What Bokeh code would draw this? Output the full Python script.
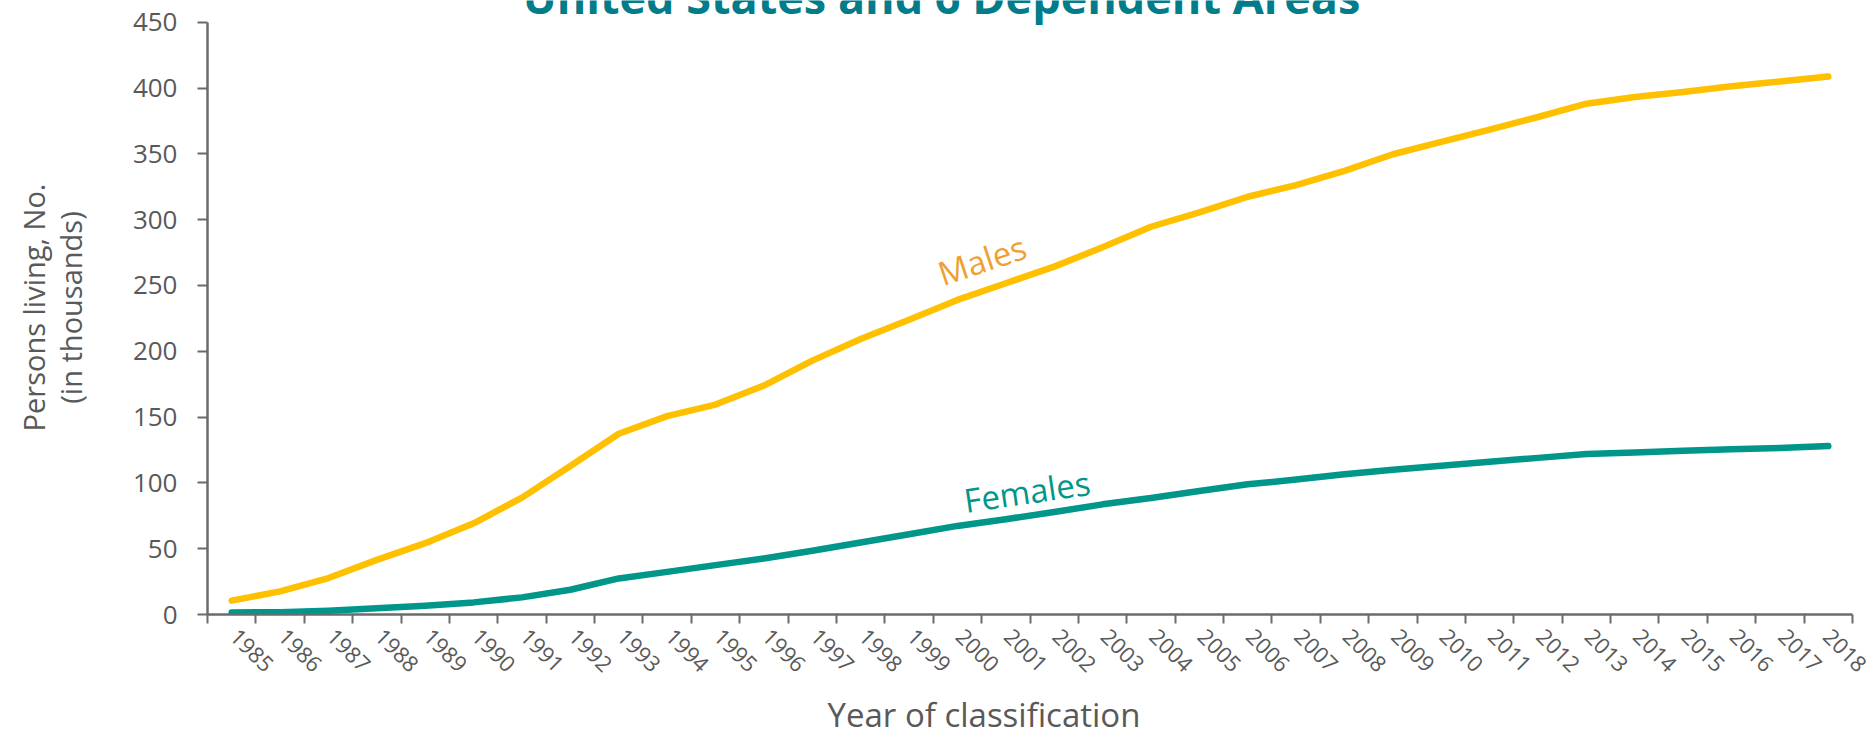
import math
from bokeh.plotting import figure
from bokeh.models import Range1d, FixedTicker, Title
from bokeh.core.properties import value
from bokeh.embed import file_html
from bokeh.resources import INLINE

# ---- data ----
years = ["1985", "1986", "1987", "1988", "1989", "1990", "1991", "1992", "1993", "1994",
         "1995", "1996", "1997", "1998", "1999", "2000", "2001", "2002", "2003", "2004",
         "2005", "2006", "2007", "2008", "2009", "2010", "2011", "2012", "2013", "2014",
         "2015", "2016", "2017", "2018"]
males = [10.5, 17.6, 27.7, 41.5, 54.2, 69.3, 88.8, 112.8, 137.3, 150.7,
         159.5, 173.9, 192.9, 209.3, 223.9, 239.0, 251.7, 264.3, 279.0, 294.6,
         305.5, 317.4, 326.2, 337.1, 349.7, 359.1, 368.4, 378.0, 388.1, 393.2,
         397.0, 401.3, 405.0, 408.8]
females = [1.5, 1.8, 2.9, 4.7, 6.7, 9.2, 13.0, 18.8, 27.4, 32.4,
           37.5, 42.6, 48.4, 54.7, 61.0, 67.3, 72.4, 77.9, 83.7, 88.5,
           93.8, 98.9, 102.5, 106.5, 110.0, 113.0, 116.0, 119.0, 122.0, 123.0,
           124.5, 125.5, 126.5, 128.0]
y_ticks = [0, 50, 100, 150, 200, 250, 300, 350, 400, 450]
title_text = "United States and 6 Dependent Areas"
x_title = "Year of classification"
y_title = "Persons living, No.\n(in thousands)"

FONT = "Open Sans"
AXIS_COL = "#6b6b6b"
TXT_COL = "#595959"
MALE_COL = "#FFC000"
MALE_TXT = "#F0A030"
FEM_COL = "#00968A"
TITLE_COL = "#007C8A"

n = len(years)
Y_MAX = 450
p = figure(width=1868, height=743, output_backend="svg", toolbar_location=None,
           x_range=Range1d(0, n), y_range=Range1d(0, 466.5),
           min_border_left=207, min_border_right=16, min_border_top=0,
           min_border_bottom=128)
p.outline_line_color = None
p.grid.visible = False
p.background_fill_color = "white"
p.border_fill_color = "white"

xs = [i + 0.5 for i in range(n)]
p.line(xs, males, line_color=MALE_COL, line_width=6.5, line_cap="round", line_join="round")
p.line(xs, females, line_color=FEM_COL, line_width=6.5, line_cap="round", line_join="round")

# x axis: tick marks between categories; slanted labels hang under each category
label_pos = [i + 0.55 for i in range(n)]
xa = p.xaxis[0]
xa.ticker = FixedTicker(ticks=label_pos, minor_ticks=list(range(n + 1)))
xa.major_label_overrides = {x: y for x, y in zip(label_pos, years)}
xa.major_tick_out = 0
xa.major_tick_in = 0
xa.major_tick_line_color = None
xa.minor_tick_out = 9
xa.minor_tick_in = 0
xa.minor_tick_line_color = AXIS_COL
xa.minor_tick_line_width = 2
xa.axis_line_color = AXIS_COL
xa.axis_line_width = 2.5
xa.major_label_orientation = -math.pi / 4
xa.major_label_standoff = 9
xa.major_label_text_font = FONT
xa.major_label_text_font_size = "22px"
xa.major_label_text_color = TXT_COL

p.add_layout(Title(text=x_title, align="left", offset=620, vertical_align="bottom",
                   standoff=14, text_font=FONT, text_font_size="33px",
                   text_font_style="normal", text_color=TXT_COL), "below")

ya = p.yaxis[0]
ya.ticker = FixedTicker(ticks=y_ticks)
ya.bounds = (0, Y_MAX)
ya.major_tick_out = 10
ya.major_tick_in = 0
ya.major_tick_line_color = AXIS_COL
ya.major_tick_line_width = 2
ya.minor_tick_line_color = None
ya.axis_line_color = AXIS_COL
ya.axis_line_width = 2.5
ya.major_label_standoff = 20
ya.major_label_text_font = FONT
ya.major_label_text_font_size = "26px"
ya.major_label_text_color = TXT_COL
ya.axis_label = y_title
ya.axis_label_text_font = FONT
ya.axis_label_text_font_size = "29px"
ya.axis_label_text_font_style = "normal"
ya.axis_label_text_color = TXT_COL
ya.axis_label_text_line_height = 0.95
ya.axis_label_standoff = 40

# title (partly cut off by the top edge, as in the reference) and series labels
p.text(x=[15.17], y=[465.5], text=[title_text], text_font=value(FONT), y_offset=-5,
       text_font_size="45px", text_font_style="bold", text_color=TITLE_COL,
       text_align="center", text_baseline="middle")
p.text(x=[16.01], y=[269.3], text=["Males"], text_font=value(FONT), angle=0.32,
       text_font_size="33px", text_color=MALE_TXT,
       text_align="center", text_baseline="middle")
p.text(x=[16.94], y=[93.5], text=["Females"], text_font=value(FONT), angle=0.145,
       text_font_size="33px", text_color=FEM_COL,
       text_align="center", text_baseline="middle")

open("out.html", "w").write(file_html(p, INLINE))
